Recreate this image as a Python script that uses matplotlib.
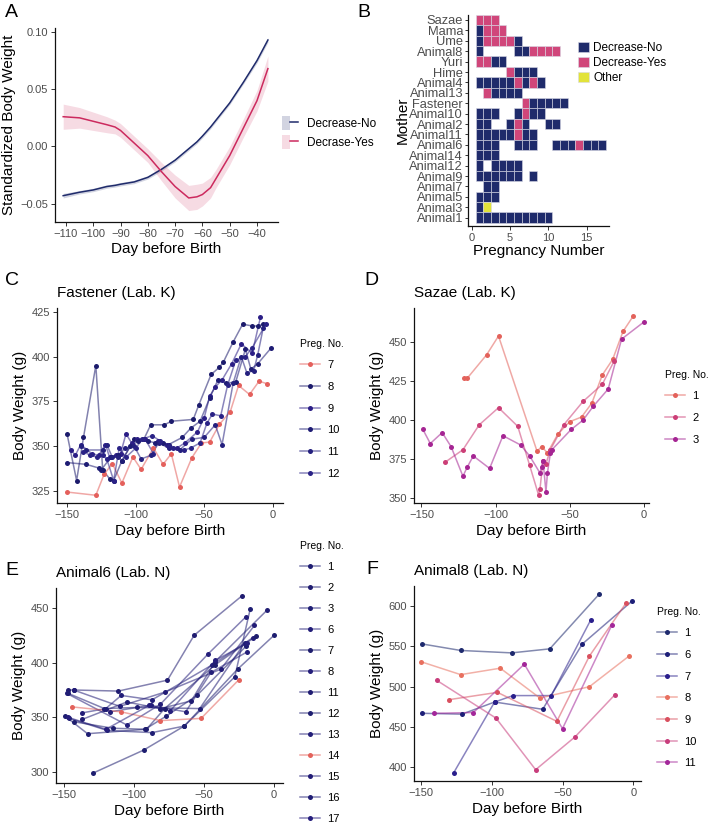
import numpy as np
import matplotlib
matplotlib.use("Agg")
import matplotlib.pyplot as plt
from matplotlib.lines import Line2D
from matplotlib.patches import Patch
from matplotlib.legend_handler import HandlerTuple
from matplotlib.ticker import FuncFormatter

plt.rcParams['font.family'] = ['Liberation Sans', 'DejaVu Sans']

# ---------------- data ----------------
# panel A : smoothed standardized weight
a_days = [-111, -105, -100, -95, -92, -90, -85, -80, -75, -70, -65, -62, -60, -57, -55, -50, -45, -40, -36]
a_no_mean = [-0.043, -0.040, -0.038, -0.035, -0.034, -0.033, -0.031, -0.027, -0.020, -0.012, -0.002, 0.004, 0.009, 0.017, 0.023, 0.038, 0.056, 0.075, 0.093]
a_no_se = [0.002, 0.0015, 0.0015, 0.0015, 0.0015, 0.0015, 0.0015, 0.0015, 0.0015, 0.0015, 0.0015, 0.0015, 0.0015, 0.0015, 0.0015, 0.0015, 0.0015, 0.002, 0.002]
a_yes_mean = [0.026, 0.025, 0.022, 0.019, 0.017, 0.014, 0.003, -0.008, -0.022, -0.035, -0.045, -0.044, -0.042, -0.036, -0.028, -0.008, 0.016, 0.040, 0.068]
a_yes_se = [0.011, 0.009, 0.008, 0.007, 0.006, 0.006, 0.006, 0.006, 0.008, 0.010, 0.011, 0.011, 0.010, 0.009, 0.008, 0.008, 0.008, 0.009, 0.011]

# panel B : pregnancy outcome per mother ('N' no, 'Y' yes, 'O' other, '.' none)
mothers = ['Sazae', 'Mama', 'Ume', 'Animal8', 'Yuri', 'Hime', 'Animal4', 'Animal13', 'Fastener',
           'Animal10', 'Animal2', 'Animal11', 'Animal6', 'Animal14', 'Animal12', 'Animal9',
           'Animal7', 'Animal5', 'Animal3', 'Animal1']
preg_codes = ['YYY', 'NYYY', 'NYYYYN', 'N....NNYYYY', 'YYNN', '....YNNN', 'NNNNNYNYN', '.YNNNN',
              '......YNNNNN', 'NNN..NYNN', 'NN..NYN..NN', 'NNNNNYNN', 'NNN..NNN..NNNYNNN', 'NNN',
              'N.NNNN', 'NNNNNN.N', '.NN', 'NNN', 'NO', 'NNNNNNNNNN']

# panel C : Fastener
c_preg = ['7', '8', '9', '10', '11', '12']
c_days = [
    [-150, -129, -123, -117, -110, -102, -96, -87, -80, -74, -68, -59, -52, -46, -39, -31, -25, -17, -10, -4],
    [-150, -143, -138, -129, -124, -119, -116, -110, -101, -94, -89, -79, -74, -58, -54, -45, -39, -36, -29, -22, -15, -11, -7],
    [-147, -144, -140, -132, -127, -122, -119, -114, -111, -107, -103, -99, -93, -87, -84, -77, -70, -64, -55, -50, -46, -42, -37, -30, -23, -15, -9],
    [-150, -136, -127, -125, -118, -113, -110, -104, -98, -91, -86, -80, -76, -66, -60, -53, -46, -40, -34, -27, -20, -16, -11, -1],
    [-140, -136, -124, -121, -117, -113, -108, -101, -96, -89, -83, -76, -68, -59, -50, -42, -37, -29, -23, -19, -14, -11, -7],
    [-138, -133, -128, -124, -121, -116, -112, -107, -100, -95, -88, -82, -76, -73, -65, -60, -53, -48, -44, -38, -33, -27, -20, -15, -5],
]
c_weight = [
    [324.6, 322.8, 334.4, 340.4, 329.6, 344.1, 337.2, 349.1, 340, 345.9, 327.4, 343.7, 351.9, 352.4, 362.2, 369.4, 383.9, 378.9, 386.3, 384.8],
    [357, 331, 355, 395, 337, 332, 331, 342, 354, 354, 362, 362, 364, 365, 373, 390, 394, 397, 408, 418, 417, 417, 418],
    [348, 345, 351, 346, 345, 351, 344, 345, 346, 357, 352, 354, 354, 346, 353, 351, 349, 352, 358, 366, 378, 383, 387, 396, 407, 402, 422],
    [341, 340, 338, 337, 344, 345, 342, 350, 353, 353, 352, 352, 351, 355, 360, 364, 377, 387, 385, 386, 404, 393, 396, 405],
    [350, 348, 348, 351, 344, 344, 349, 350, 343, 345, 352, 349, 348, 354, 355, 362, 351, 385, 400, 391, 392, 401, 416],
    [347, 345, 344, 345, 343, 331, 349, 344, 349, 354, 356, 353, 350, 349, 348, 349, 352, 363, 368, 367, 384, 398, 400, 405, 418],
]
c_colors = ['#E4605C', '#1C1B6C', '#2B1E86', '#1E1C74', '#24207E', '#2A2286']

# panel D : Sazae
d_preg = ['1', '2', '3']
d_days = [
    [-121, -119, -106, -98, -72, -69, -65, -58, -50, -42, -35, -28, -21, -14, -7],
    [-134, -122, -111, -98, -85, -77, -71, -70, -68, -66, -63, -54, -41, -28, -20],
    [-149, -144, -136, -130, -122, -119, -115, -104, -95, -83, -77, -70, -69, -68, -66, -65, -63, -62, -49, -41, -34, -24, -15, 0],
]
d_weight = [
    [427, 427, 442, 454, 380, 383, 379, 391, 399, 402, 411, 429, 439, 457, 467],
    [373, 381, 397, 408, 396, 371, 352, 356, 374, 372, 381, 397, 412, 423, 438],
    [394, 385, 392, 383, 364, 370, 377, 369, 390, 384, 377, 366, 370, 374, 354, 366, 379, 381, 394, 400, 409, 420, 452, 463],
]
d_colors = ['#E3625B', '#CC3F77', '#A52593']

# panel E : Animal6
e_preg = ['1', '2', '3', '6', '7', '8', '11', '12', '13', '14', '15', '16', '17']
e_days = [
    [-149, -133, -92, -77, -55, -20],
    [-147, -143, -111, -76, -57, -23],
    [-146, -119, -87, -64, -28, -17],
    [-137, -120, -109, -87, -44, -15],
    [-143, -115, -91, -78, -42, -13],
    [-148, -105, -81, -47, -20],
    [-137, -105, -81, -59, -42, -5],
    [-129, -93, -64, -26, 0],
    [-117, -88, -63, -45, -19],
    [-144, -109, -81, -52, -25],
    [-143, -110, -78, -38, -14],
    [-147, -121, -98, -53, -21],
    [-147, -120, -89, -74, -42, -19],
]
e_weight = [
    [351, 335, 339, 351, 370, 415],
    [375, 375, 374, 384, 425, 461],
    [349, 338, 336, 342, 387, 449],
    [354, 358, 370, 366, 398, 423],
    [346, 340, 339, 358, 398, 424],
    [372, 343, 362, 408, 442],
    [348, 364, 358, 365, 401, 448],
    [299, 320, 342, 394, 425],
    [355, 361, 355, 391, 410],
    [359.5, 355, 347, 349, 384.5],
    [375, 360, 373, 394, 434],
    [372, 358, 359, 358, 418],
    [350, 339, 361, 356, 402, 418],
]
e_colors = ['#1E1D72', '#201C70', '#1F1E74', '#221D78', '#1E1D6E', '#241E7A', '#201C72', '#1E1E70',
            '#231E78', '#E3625B', '#221C76', '#201D74', '#261E7C']

# panel F : Animal8
f_preg = ['1', '6', '7', '8', '9', '10', '11']
f_days = [
    [-149, -122, -86, -59, -24],
    [-149, -121, -98, -64, -36, -1],
    [-127, -98, -85, -58, -30],
    [-150, -122, -94, -66, -31, -3],
    [-130, -96, -54, -31, -5],
    [-139, -97, -69, -41, -13],
    [-141, -113, -77, -50, -15],
]
f_weight = [
    [553, 545, 542, 547, 615],
    [467, 466, 481, 472, 553, 606],
    [393, 481, 489, 489, 583],
    [531, 515, 523, 486, 500, 538],
    [484, 493, 457, 538, 604],
    [508, 461, 397, 438, 490],
    [467, 468, 528, 448, 577],
]
f_colors = ['#1E2A6E', '#1D1F78', '#2A1F8C', '#E8705F', '#D9505F', '#C83D7C', '#A3279A']

# ---------------- figure ----------------
W, H = 708, 832
fig = plt.figure(figsize=(W / 100, H / 100), dpi=100)
GREY = '#4D4D4D'
NAVY = '#1F2B6B'
PINK = '#D0467A'
CRIMSON = '#CC2A5E'


def px_axes(l, t, r, b):
    return fig.add_axes([l / W, 1 - b / H, (r - l) / W, (b - t) / H])


def style(ax):
    for s in ['top', 'right']:
        ax.spines[s].set_visible(False)
    for s in ['left', 'bottom']:
        ax.spines[s].set_linewidth(0.9)
        ax.spines[s].set_color('#111111')
    ax.tick_params(length=3, width=0.7, color='#333333', labelsize=8, labelcolor=GREY, pad=2)


minus = FuncFormatter(lambda v, p: ('%g' % v).replace('-', '\u2212'))

# ---- A ----
ax = px_axes(55, 28, 278, 222)
style(ax)
ax.fill_between(a_days, np.array(a_no_mean) - a_no_se, np.array(a_no_mean) + a_no_se,
                color=NAVY, alpha=0.2, lw=0)
ax.fill_between(a_days, np.array(a_yes_mean) - a_yes_se, np.array(a_yes_mean) + a_yes_se,
                color=CRIMSON, alpha=0.17, lw=0)
ax.plot(a_days, a_no_mean, color=NAVY, lw=1.1)
ax.plot(a_days, a_yes_mean, color=CRIMSON, lw=1.1)
ax.set_xlim(-114, -32.3)
ax.set_ylim(-0.066, 0.1035)
ax.set_xticks(range(-110, -39, 10))
ax.set_yticks([-0.05, 0, 0.05, 0.10])
ax.xaxis.set_major_formatter(minus)
ax.yaxis.set_major_formatter(FuncFormatter(lambda v, p: ('%.2f' % v).replace('-', '\u2212')))
ax.set_xlabel('Day before Birth', fontsize=11, labelpad=2)
ax.set_ylabel('Standardized Body Weight', fontsize=11, labelpad=3)
hA = [(Patch(facecolor=NAVY, alpha=0.2), Line2D([], [], color=NAVY, lw=1.1)),
      (Patch(facecolor=CRIMSON, alpha=0.17), Line2D([], [], color=CRIMSON, lw=1.1))]
ax.legend(hA, ['Decrease-No', 'Decrase-Yes'], handler_map={tuple: HandlerTuple(ndivide=None, pad=0)},
          loc='center left', bbox_to_anchor=(0.99, 0.46), frameon=False, fontsize=8.5, borderpad=0,
          handlelength=1.4, handleheight=1.4, labelspacing=0.45, handletextpad=0.75)
fig.text(5 / W, 1 - 4 / H, 'A', fontsize=14, va='top', ha='left')

# ---- B ----
ax = px_axes(468, 15, 609, 226)
style(ax)
tile_col = {'N': NAVY, 'Y': PINK, 'O': '#E2E33A'}
nrow = len(mothers)
for i, (m, code) in enumerate(zip(mothers, preg_codes)):
    row = nrow - i
    for k, ch in enumerate(code):
        if ch == '.':
            continue
        ax.barh(row, 1, left=k + 0.5, height=1, color=tile_col[ch], edgecolor='#D8DAE6', linewidth=0.4)
ax.set_yticks(range(nrow, 0, -1))
ax.set_yticklabels(mothers, fontsize=9.3)
ax.tick_params(axis='y', length=2, pad=1.5)
ax.set_xlim(-0.5, 17.9)
ax.set_ylim(0.2, nrow + 0.48)
ax.set_xticks([0, 5, 10, 15])
ax.set_xlabel('Pregnancy Number', fontsize=11, labelpad=1)
ax.set_ylabel('Mother', fontsize=11, labelpad=0)
hB = [Patch(facecolor=NAVY, edgecolor='#D8DAE6', lw=0.4), Patch(facecolor=PINK, edgecolor='#D8DAE6', lw=0.4),
      Patch(facecolor='#E2E33A', edgecolor='#D8DAE6', lw=0.4)]
fig.legend(hB, ['Decrease-No', 'Decrease-Yes', 'Other'], loc='upper left',
           bbox_to_anchor=(572 / W, 1 - 36 / H), frameon=False, fontsize=8.5,
           handlelength=0.95, handleheight=0.95, labelspacing=0.25, handletextpad=0.35, borderpad=0)
fig.text(357 / W, 1 - 4 / H, 'B', fontsize=14, va='top', ha='left')


# ---- line panels ----
def line_panel(box, days, weight, colors, labels, title, letter, letter_xy, xlim, ylim, yticks, leg_xy, leg_sp):
    ax = px_axes(*box)
    style(ax)
    for dd, ww, cc in zip(days, weight, colors):
        ax.plot(dd, ww, color=cc, lw=1.1, alpha=0.55, zorder=2)
        ax.plot(dd, ww, ls='none', marker='o', ms=3.6, color=cc, mec='none', zorder=3)
    ax.set_xlim(*xlim)
    ax.set_ylim(*ylim)
    ax.set_xticks([-150, -100, -50, 0])
    ax.set_yticks(yticks)
    ax.xaxis.set_major_formatter(minus)
    ax.set_xlabel('Day before Birth', fontsize=11, labelpad=3)
    ax.set_ylabel('Body Weight (g)', fontsize=11, labelpad=3)
    ax.set_title(title, fontsize=11, loc='left', pad=8)
    hands = [(Line2D([], [], color=c, lw=1.1, alpha=0.55), Line2D([], [], ls='none', marker='o', ms=3.6, color=c, mec='none'))
             for c in colors]
    fig.legend(hands, labels, handler_map={tuple: HandlerTuple(ndivide=1, pad=0)}, loc='upper left',
               bbox_to_anchor=(leg_xy[0] / W, 1 - leg_xy[1] / H), frameon=False, fontsize=8,
               title='Preg. No.', title_fontsize=7.5, alignment='left', handlelength=1.8,
               labelspacing=leg_sp, handletextpad=0.7, borderpad=0)
    fig.text(letter_xy[0] / W, 1 - letter_xy[1] / H, letter, fontsize=14, va='top', ha='left')
    return ax


line_panel((57, 308, 283, 503), c_days, c_weight, c_colors, c_preg, 'Fastener (Lab. K)', 'C', (5, 272),
           (-157.3, 7.4), (318.5, 427), [325, 350, 375, 400, 425], (294, 333), 1.05)
line_panel((414, 308, 649, 503), d_days, d_weight, d_colors, d_preg, 'Sazae (Lab. K)', 'D', (364, 272),
           (-155, 3.5), (346.8, 472), [350, 375, 400, 425, 450], (659, 364), 1.05)
line_panel((56, 588, 283, 783), e_days, e_weight, e_colors, e_preg, 'Animal6 (Lab. N)', 'E', (5, 562),
           (-155.5, 6.4), (289.9, 468.3), [300, 350, 400, 450], (294, 535), 0.99)
line_panel((414, 586, 641, 781), f_days, f_weight, f_colors, f_preg, 'Animal8 (Lab. N)', 'F', (366, 561),
           (-155, 5.5), (383, 625), [400, 450, 500, 550, 600], (651, 601), 1.05)

fig.savefig('out.png', dpi=100)
